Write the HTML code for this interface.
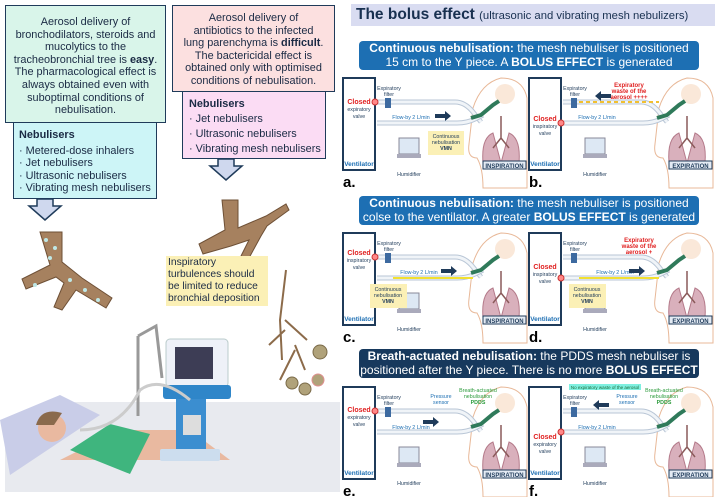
<!DOCTYPE html>
<html><head><meta charset="utf-8">
<style>
body{margin:0;width:720px;height:497px;background:#fff;position:relative;overflow:hidden;font-family:"Liberation Sans",sans-serif;}
.abs{position:absolute;}
.box{position:absolute;box-sizing:border-box;border:1.5px solid #1f3b5a;font-size:10.9px;line-height:12.6px;color:#1a2a44;white-space:nowrap;}
.ban{position:absolute;background:#1d6fb3;color:#fff;border-radius:4px;text-align:center;font-size:12px;line-height:13.5px;padding-top:1px;white-space:nowrap;}
.ban.dk{background:#17395d;}
</style></head><body>

<div class="box" style="left:5px;top:5px;width:161px;height:118px;background:#d9f5ea;text-align:center;padding-top:10px;">Aerosol delivery of<br>bronchodilators, steroids and<br>mucolytics to the<br>tracheobronchial tree is <b>easy</b>.<br>The pharmacological effect is<br>always obtained even with<br>suboptimal conditions of<br>nebulisation.</div>
<div class="box" style="left:13px;top:122px;width:144px;height:77px;background:#cdf5f7;padding:6px 0 0 5px;"><b>Nebulisers</b><div style="height:3px"></div>· Metered-dose inhalers<br>· Jet nebulisers<br>· Ultrasonic nebulisers<br>· Vibrating mesh nebulisers</div>
<div class="box" style="left:172px;top:5px;width:163px;height:87px;background:#fce0e0;text-align:center;padding-top:6px;">Aerosol delivery of<br>antibiotics to the infected<br>lung parenchyma is <b>difficult</b>.<br>The bactericidal effect is<br>obtained only with optimised<br>conditions of nebulisation.</div>
<div class="box" style="left:182px;top:91px;width:144px;height:68px;background:#fbdcf4;padding:5px 0 0 6px;line-height:15px;"><b>Nebulisers</b><br>· Jet nebulisers<br>· Ultrasonic nebulisers<br>· Vibrating mesh nebulisers</div>

<svg class="abs" style="left:0;top:0" width="340" height="497">
 <path d="M37 199h16v7h8l-16 14l-16-14h8z" fill="#cfd8ee" stroke="#1f3b5a" stroke-width="1.5"/>
 <path d="M218 159h16v7h8l-16 14l-16-14h8z" fill="#cfd8ee" stroke="#1f3b5a" stroke-width="1.5"/>
 <g fill="#a6815f" stroke="#6e5036" stroke-width="1">
  <path d="M40 232h22v30l20 16l30 20l-6 10l-30-18l-14 20l-8-3l10-24l-8-6l-30 12l-4-10l28-14z"/>
 </g>
 <g fill="#bfe8e6"><circle cx="46" cy="240" r="2"/><circle cx="55" cy="248" r="2"/><circle cx="50" cy="258" r="2"/><circle cx="70" cy="280" r="2"/><circle cx="85" cy="290" r="2"/><circle cx="35" cy="285" r="2"/><circle cx="98" cy="300" r="2"/></g>
 <g fill="#a6815f" stroke="#6e5036" stroke-width="1">
  <path d="M222 200h16v28l28-12l20-12l3 6l-22 16l-6 10l-12 22l-8 30l-4 0l4-32l8-16l-18 6l-28 8l-4-10l26-14z"/>
 </g>
 <g stroke="#8c6b4a" stroke-width="2" fill="none"><path d="M286 270l-6 50l2 40M285 320l22 20M285 330l-16 15M295 345l10 25M295 350l-15 30"/></g>
 <g fill="#b0a27a" stroke="#7a6a48"><circle cx="320" cy="352" r="7"/><circle cx="292" cy="383" r="6"/><circle cx="305" cy="389" r="6"/><circle cx="318" cy="380" r="6" stroke="#e09090"/></g>
 <path d="M5 432l70-30h270v90H5z" fill="#e8eaef"/>
 <path d="M0 420l60-25l40 20l-90 60z" fill="#c9cde8"/>
 <path d="M60 460l60-30h70l40 30z" fill="#e9b9a0"/>
 <path d="M70 450l40-26l40 10l-20 40z" fill="#3fb57e"/>
 <circle cx="52" cy="428" r="14" fill="#e9b9a0"/><path d="M36 425q5-18 26-12l-8 12z" fill="#8a6a4c"/>
 <path d="M138 336v80M138 336l18-10l6 52" stroke="#999" stroke-width="3" fill="none"/>
 <rect x="166" y="339" width="62" height="48" rx="4" fill="#eef1f8" stroke="#bcc"/>
 <rect x="175" y="347" width="38" height="32" fill="#3d3d55"/>
 <rect x="163" y="385" width="68" height="14" rx="3" fill="#2f86c9"/>
 <rect x="176" y="399" width="30" height="50" fill="#3b8ed0"/>
 <rect x="183" y="415" width="18" height="20" fill="#ddd"/>
 <rect x="160" y="449" width="60" height="12" rx="2" fill="#cde"/>
 <path d="M80 430q40 0 60-40q20-15 50 10" stroke="#ccc" stroke-width="3" fill="none"/>
</svg>
<div class="abs" style="left:166px;top:256px;width:98px;background:#fbf0b6;font-size:10.3px;line-height:12px;color:#1a2a44;padding:1px 2px;">Inspiratory turbulences should be limited to reduce bronchial deposition</div>

<div class="abs" style="left:351px;top:4px;width:359px;height:22px;background:#d9dcf1;color:#183050;font-size:15.5px;line-height:22px;padding-left:5px;white-space:nowrap;"><b>The bolus effect</b> <span style="font-size:11.3px">(ultrasonic and vibrating mesh nebulizers)</span></div>
<div class="ban" style="left:359px;top:41px;width:340px;height:28px;"><b>Continuous nebulisation:</b> the mesh nebuliser is positioned<br>15 cm to the Y piece. A <b>BOLUS EFFECT</b> is generated</div>
<div class="ban" style="left:359px;top:196px;width:340px;height:28px;"><b>Continuous nebulisation:</b> the mesh nebuliser is positioned<br>colse to the ventilator. A greater <b>BOLUS EFFECT</b> is generated</div>
<div class="ban dk" style="left:359px;top:349px;width:340px;height:28px;"><b>Breath-actuated nebulisation:</b> the PDDS mesh nebuliser is<br>positioned after the Y piece. There is no more <b>BOLUS EFFECT</b></div>

<svg class="abs" style="left:0;top:0" width="720" height="497" font-family="Liberation Sans, sans-serif">
<defs>
 <g id="base">
  <rect x="0" y="0" width="32" height="92" fill="#fff" stroke="#1f3b5a" stroke-width="2"/>
  <path d="M130 30q8-25 28-30q22 0 26 20v90h-44q0-20 -6-30q-10 0-8-14z" fill="#fff" stroke="#e8b898" stroke-width="1"/>
  <circle cx="162" cy="16" r="10" fill="#f6d9c0" opacity=".6"/>
  <path d="M150 55q-12 5-10 30h18zM166 55q12 5 10 30h-18z" fill="#d9b0bc" stroke="#b47a8a"/>
  <path d="M158 38v22M158 60l-8 10M158 60l8 10" stroke="#8a5a5a" stroke-width="1.5" fill="none"/>
  <path d="M34 24h78q10 0 18 10l8 10" stroke="#b9c6d6" stroke-width="5" fill="none"/>
  <path d="M34 24h78q10 0 18 10l8 10" stroke="#f0f4f8" stroke-width="3" fill="none"/>
  <path d="M34 45h80q10 0 18-4l8-4" stroke="#b9c6d6" stroke-width="5" fill="none"/>
  <path d="M34 45h80q10 0 18-4l8-4" stroke="#f0f4f8" stroke-width="3" fill="none"/>
  <path d="M128 40l10-3l12-10l6-4" stroke="#2f7a5a" stroke-width="4" fill="none"/>
  <rect x="42" y="20" width="6" height="10" fill="#3d6aa0"/>
  <rect x="56" y="60" width="20" height="16" fill="#dde8f4" stroke="#889"/>
  <rect x="54" y="76" width="24" height="4" fill="#aab"/>
  <rect x="140" y="83" width="43" height="8" fill="#e4ebf4" stroke="#1f3b5a"/>
 </g>
</defs>
<g font-size="5.3" fill="#1f3b5a" text-anchor="middle">
 <g transform="translate(343,78)"><use href="#base"/>
  <text x="16" y="26" fill="#e02020" font-weight="bold" font-size="7">Closed</text><text x="16" y="33">expiratory</text><text x="16" y="40">valve</text>
  <circle cx="32" cy="24" r="3" fill="#f88" stroke="#c33"/>
  <text x="16" y="88" fill="#1d6fb3" font-weight="bold" font-size="6.5">Ventilator</text>
  <text x="46" y="12">Expiratory</text><text x="46" y="18">filter</text>
  <text x="68" y="41" fill="#1d6fb3">Flow-by 2 L/min</text>
  <rect x="85" y="53" width="36" height="24" fill="#fbf0b6"/><text x="103" y="60">Continuous</text><text x="103" y="66">nebulisation</text><text x="103" y="72" font-weight="bold">VMN</text>
  <path d="M92 36h10v-3l6 5l-6 5v-3h-10z" fill="#1f3b5a"/>
  <text x="66" y="98">Humidifier</text>
  <text x="161.5" y="90" font-size="6" font-weight="bold">INSPIRATION</text>
  <text x="0" y="109" text-anchor="start" font-size="15" font-weight="bold" fill="#000">a.</text>
 </g>
 <g transform="translate(529,78)"><use href="#base"/>
  <text x="16" y="43" fill="#e02020" font-weight="bold" font-size="7">Closed</text><text x="16" y="50">inspiratory</text><text x="16" y="57">valve</text>
  <circle cx="32" cy="45" r="3" fill="#f88" stroke="#c33"/>
  <text x="16" y="88" fill="#1d6fb3" font-weight="bold" font-size="6.5">Ventilator</text>
  <text x="46" y="12">Expiratory</text><text x="46" y="18">filter</text>
  <path d="M50 24h80" stroke="#f2c030" stroke-width="2" stroke-dasharray="4 3"/>
  <text x="100" y="9" fill="#e02020" font-weight="bold" font-size="6">Expiratory</text><text x="100" y="15" fill="#e02020" font-weight="bold" font-size="6">waste of the</text><text x="100" y="21" fill="#e02020" font-weight="bold" font-size="6">aerosol ++++</text>
  <path d="M82 16h-10v-3l-6 5l6 5v-3h10z" fill="#1f3b5a"/>
  <text x="68" y="41" fill="#1d6fb3">Flow-by 2 L/min</text>
  <text x="66" y="98">Humidifier</text>
  <text x="161.5" y="90" font-size="6" font-weight="bold">EXPIRATION</text>
  <text x="0" y="109" text-anchor="start" font-size="15" font-weight="bold" fill="#000">b.</text>
 </g>
 <g transform="translate(343,233)"><use href="#base"/>
  <text x="16" y="22" fill="#e02020" font-weight="bold" font-size="7">Closed</text><text x="16" y="29">inspiratory</text><text x="16" y="36">valve</text>
  <circle cx="32" cy="24" r="3" fill="#f88" stroke="#c33"/>
  <text x="16" y="88" fill="#1d6fb3" font-weight="bold" font-size="6.5">Ventilator</text>
  <text x="46" y="12">Expiratory</text><text x="46" y="18">filter</text>
  <path d="M50 45h80" stroke="#f2e030" stroke-width="2"/>
  <text x="76" y="41" fill="#1d6fb3">Flow-by 2 L/min</text>
  <rect x="27" y="51" width="37" height="24" fill="#fbf0b6"/><text x="45" y="58">Continuous</text><text x="45" y="64">nebulisation</text><text x="45" y="70" font-weight="bold">VMN</text>
  <path d="M98 36h10v-3l6 5l-6 5v-3h-10z" fill="#1f3b5a"/>
  <text x="66" y="98">Humidifier</text>
  <text x="161.5" y="90" font-size="6" font-weight="bold">INSPIRATION</text>
  <text x="0" y="109" text-anchor="start" font-size="15" font-weight="bold" fill="#000">c.</text>
 </g>
 <g transform="translate(529,233)"><use href="#base"/>
  <text x="16" y="36" fill="#e02020" font-weight="bold" font-size="7">Closed</text><text x="16" y="43">inspiratory</text><text x="16" y="50">valve</text>
  <circle cx="32" cy="45" r="3" fill="#f88" stroke="#c33"/>
  <text x="16" y="88" fill="#1d6fb3" font-weight="bold" font-size="6.5">Ventilator</text>
  <text x="46" y="12">Expiratory</text><text x="46" y="18">filter</text>
  <path d="M50 45h80" stroke="#f2e030" stroke-width="2"/>
  <text x="110" y="9" fill="#e02020" font-weight="bold" font-size="6">Expiratory</text><text x="110" y="15" fill="#e02020" font-weight="bold" font-size="6">waste of the</text><text x="110" y="21" fill="#e02020" font-weight="bold" font-size="6">aerosol +</text>
  <text x="86" y="41" fill="#1d6fb3">Flow-by 2 L/min</text>
  <rect x="40" y="51" width="37" height="24" fill="#fbf0b6"/><text x="58" y="58">Continuous</text><text x="58" y="64">nebulisation</text><text x="58" y="70" font-weight="bold">VMN</text>
  <path d="M100 36h10v-3l6 5l-6 5v-3h-10z" fill="#1f3b5a"/>
  <text x="66" y="98">Humidifier</text>
  <text x="161.5" y="90" font-size="6" font-weight="bold">EXPIRATION</text>
  <text x="0" y="109" text-anchor="start" font-size="15" font-weight="bold" fill="#000">d.</text>
 </g>
 <g transform="translate(343,387)"><use href="#base"/>
  <text x="16" y="25" fill="#e02020" font-weight="bold" font-size="7">Closed</text><text x="16" y="32">expiratory</text><text x="16" y="39">valve</text>
  <circle cx="32" cy="24" r="3" fill="#f88" stroke="#c33"/>
  <text x="16" y="88" fill="#1d6fb3" font-weight="bold" font-size="6.5">Ventilator</text>
  <text x="46" y="12">Expiratory</text><text x="46" y="18">filter</text>
  <text x="98" y="11" fill="#1d6fb3">Pressure</text><text x="98" y="17" fill="#1d6fb3">sensor</text>
  <text x="135" y="5" fill="#2a9a3a">Breath-actuated</text><text x="135" y="11" fill="#2a9a3a">nebulisation</text><text x="135" y="17" fill="#2a9a3a" font-weight="bold">PDDS</text>
  <text x="68" y="42" fill="#1d6fb3">Flow-by 2 L/min</text>
  <path d="M80 33h10v-3l6 5l-6 5v-3h-10z" fill="#1f3b5a"/>
  <text x="66" y="98">Humidifier</text>
  <text x="161.5" y="90" font-size="6" font-weight="bold">INSPIRATION</text>
  <text x="0" y="109" text-anchor="start" font-size="15" font-weight="bold" fill="#000">e.</text>
 </g>
 <g transform="translate(529,387)"><use href="#base"/>
  <rect x="40" y="-3" width="72" height="6" fill="#7ff0e0"/><text x="76" y="2" font-size="4.5" fill="#1a6a3a">No expiratory waste of the aerosol</text>
  <text x="16" y="52" fill="#e02020" font-weight="bold" font-size="7">Closed</text><text x="16" y="59">expiratory</text><text x="16" y="66">valve</text>
  <circle cx="32" cy="45" r="3" fill="#f88" stroke="#c33"/>
  <text x="16" y="88" fill="#1d6fb3" font-weight="bold" font-size="6.5">Ventilator</text>
  <text x="46" y="12">Expiratory</text><text x="46" y="18">filter</text>
  <text x="98" y="11" fill="#1d6fb3">Pressure</text><text x="98" y="17" fill="#1d6fb3">sensor</text>
  <text x="135" y="5" fill="#2a9a3a">Breath-actuated</text><text x="135" y="11" fill="#2a9a3a">nebulisation</text><text x="135" y="17" fill="#2a9a3a" font-weight="bold">PDDS</text>
  <path d="M80 16h-10v-3l-6 5l6 5v-3h10z" fill="#1f3b5a"/>
  <text x="68" y="42" fill="#1d6fb3">Flow-by 2 L/min</text>
  <text x="66" y="98">Humidifier</text>
  <text x="161.5" y="90" font-size="6" font-weight="bold">EXPIRATION</text>
  <text x="0" y="109" text-anchor="start" font-size="15" font-weight="bold" fill="#000">f.</text>
 </g>
</g>
</svg>
</body></html>
